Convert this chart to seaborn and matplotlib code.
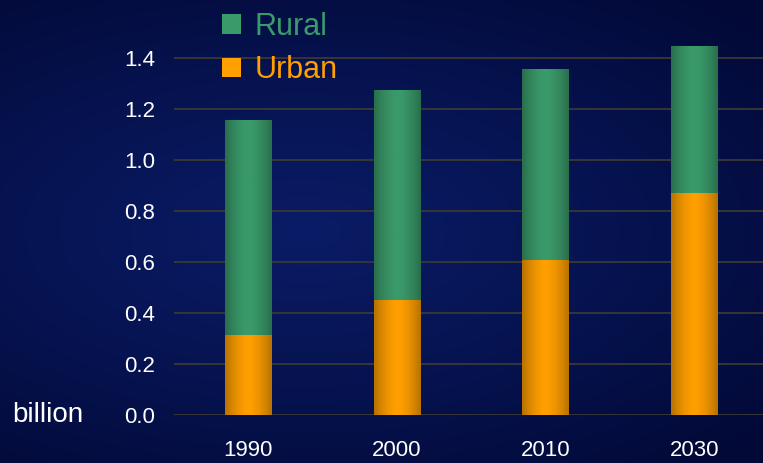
import numpy as np
import pandas as pd
import seaborn as sns
import matplotlib.pyplot as plt
from matplotlib.patches import Patch
from matplotlib.colors import LinearSegmentedColormap

years = ["1990", "2000", "2010", "2030"]
urban = [0.314, 0.451, 0.608, 0.871]
rural = [0.843, 0.824, 0.749, 0.576]
total = [u + r for u, r in zip(urban, rural)]
yticks = [0.0, 0.2, 0.4, 0.6, 0.8, 1.0, 1.2, 1.4]

green = "#3a9a6a"
orange = "#ff9f00"

df = pd.DataFrame({"year": years, "urban": urban, "total": total})

sns.set_style("white")
plt.rcParams["font.family"] = ["Liberation Sans", "DejaVu Sans"]

fig = plt.figure(figsize=(7.63, 4.63), dpi=100)

# background gradient
bg = fig.add_axes([0, 0, 1, 1], zorder=-10)
yy, xx = np.mgrid[0:1:300j, 0:1:500j]
d = np.sqrt(((xx - 0.4) / 1.1) ** 2 + ((yy - 0.5) / 0.9) ** 2)
bg_cmap = LinearSegmentedColormap.from_list("bg", ["#0a1c66", "#061350", "#020936"])
bg.imshow(d, cmap=bg_cmap, aspect="auto", extent=[0, 1, 0, 1], vmin=0, vmax=0.75)
bg.axis("off")

ax = fig.add_axes([0.2274, 0.1037, 0.781, 0.881])
ax.patch.set_alpha(0)

sns.barplot(data=df, x="year", y="total", color=green, width=0.315,
            saturation=1, linewidth=0, ax=ax, zorder=3)
sns.barplot(data=df, x="year", y="urban", color=orange, width=0.315,
            saturation=1, linewidth=0, ax=ax, zorder=3)

# horizontal shading on the bars
shade = np.abs(np.linspace(-1, 1, 64)) ** 1.6
shade = shade[np.newaxis, :]
for p in ax.patches:
    p.set_linewidth(0)
    base = np.array(p.get_facecolor()[:3])
    cm = LinearSegmentedColormap.from_list("s", [base, base * 0.72])
    x0, y0 = p.get_x(), p.get_y()
    w, h = p.get_width(), p.get_height()
    im = ax.imshow(shade, cmap=cm, aspect="auto", extent=[x0, x0 + w, y0, y0 + h],
                   zorder=4, vmin=0, vmax=1)
    im.set_clip_path(p)

ax.set_xlim(-0.5, 3.5)
ax.set_ylim(0, 1.6)
ax.set_yticks(yticks)
ax.set_yticklabels([f"{v:.1f}" for v in yticks])
ax.grid(axis="y", color="#363636", linewidth=1.4, zorder=0)
ax.set_axisbelow(True)
for s in ax.spines.values():
    s.set_visible(False)
ax.tick_params(colors="white", labelsize=16, length=0)
ax.tick_params(axis="y", pad=13)
ax.tick_params(axis="x", pad=18)
ax.set_xlabel("")
ax.set_ylabel("")

fig.text(0.016, 0.1037, "billion", color="white", fontsize=20, va="center")

handles = [Patch(facecolor=green, edgecolor="none"),
           Patch(facecolor=orange, edgecolor="none")]
leg = fig.legend(handles, ["Rural", "Urban"], loc="upper left",
                 bbox_to_anchor=(0.291, 0.975), frameon=False, fontsize=22,
                 borderpad=0, borderaxespad=0,
                 handlelength=0.62, handleheight=0.62, handletextpad=0.45,
                 labelspacing=0.45)
for t, c in zip(leg.get_texts(), [green, orange]):
    t.set_color(c)

fig.savefig("out.png", dpi=100)
